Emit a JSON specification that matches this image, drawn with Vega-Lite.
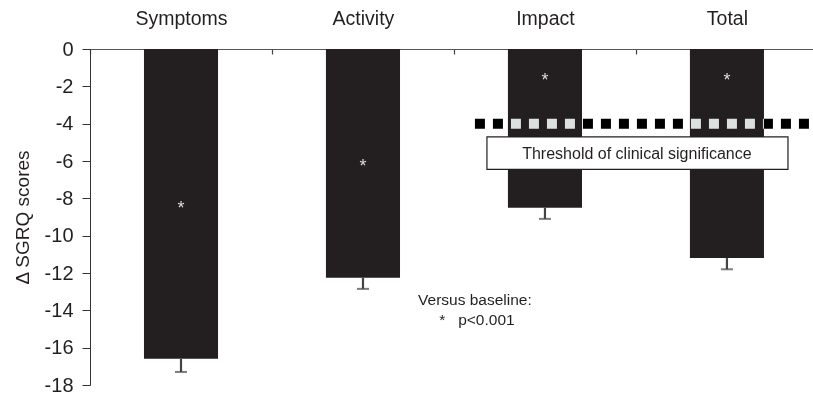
{
  "$schema": "https://vega.github.io/schema/vega-lite/v6.json",
  "width": 723,
  "height": 336,
  "autosize": {"type": "none"},
  "padding": {"left": 90, "top": 49, "right": 0, "bottom": 8},
  "config": {
    "view": {"stroke": null},
    "font": "Liberation Sans",
    "axisY": {
      "tickCount": 10,
      "labelExpr": "'' + datum.value", "labelOverlap": false,
      "labelFontSize": 20, "labelColor": "#231f20", "labelPadding": 9,
      "tickSize": 8, "tickColor": "#333", "domainColor": "#333",
      "grid": false,
      "titleFontSize": 19, "titleFontWeight": "normal",
      "titleColor": "#231f20", "titlePadding": 12
    }
  },
  "layer": [
    {
      "data": {"values": [
        {"domain": "Symptoms", "value": -16.6, "lower": -17.3, "star": -8.35},
        {"domain": "Activity", "value": -12.25, "lower": -12.85, "star": -6.1},
        {"domain": "Impact", "value": -8.5, "lower": -9.1, "star": -1.5},
        {"domain": "Total", "value": -11.2, "lower": -11.8, "star": -1.5}
      ]},
      "encoding": {
        "x": {
          "field": "domain", "type": "nominal", "sort": null,
          "scale": {"paddingInner": 0.593, "paddingOuter": 0.283, "align": 0.524},
          "axis": {
            "orient": "top", "title": null, "labelAngle": 0,
            "labelFontSize": 19.5, "labelColor": "#231f20", "labelPadding": 26,
            "tickBand": "center", "tickOffset": -91, "labelOffset": 91,
            "tickSize": -5, "tickColor": "#444", "tickWidth": 1.2,
            "domainColor": "#555", "domainWidth": 1.2
          }
        }
      },
      "layer": [
        {
          "mark": {"type": "bar", "color": "#231f20"},
          "encoding": {
            "y": {
              "field": "value", "type": "quantitative",
              "scale": {"domain": [-18, 0], "nice": false, "zero": false},
              "axis": {"title": "Δ SGRQ scores"}
            },
            "y2": {"datum": 0}
          }
        },
        {
          "mark": {"type": "rule", "color": "#444", "strokeWidth": 2.2},
          "encoding": {
            "y": {"field": "value", "type": "quantitative"},
            "y2": {"field": "lower"}
          }
        },
        {
          "mark": {"type": "tick", "color": "#444", "thickness": 2, "size": 12, "orient": "horizontal"},
          "encoding": {
            "y": {"field": "lower", "type": "quantitative"}
          }
        },
        {
          "mark": {"type": "text", "text": "*", "color": "#dddddd", "fontSize": 18, "baseline": "middle", "dy": 4},
          "encoding": {
            "y": {"field": "star", "type": "quantitative"}
          }
        }
      ]
    },
    {
      "data": {"values": [{"x1": 2.115, "x2": 3.9725, "y": -4}]},
      "mark": {"type": "rule", "color": "white", "strokeWidth": 10, "strokeDash": [10, 8], "blend": "difference"},
      "encoding": {
        "x": {"field": "x1", "type": "quantitative", "scale": {"domain": [0, 3.9725], "nice": false, "zero": false}, "axis": null},
        "x2": {"field": "x2"},
        "y": {"field": "y", "type": "quantitative"}
      }
    },
    {
      "data": {"values": [{"x1": 2.181, "x2": 3.835, "y1": -4.71, "y2": -6.45}]},
      "mark": {"type": "rect", "fill": "white", "stroke": "#231f20", "strokeWidth": 1.2},
      "encoding": {
        "x": {"field": "x1", "type": "quantitative", "scale": {"domain": [0, 3.9725], "nice": false, "zero": false}, "axis": null},
        "x2": {"field": "x2"},
        "y": {"field": "y1", "type": "quantitative"},
        "y2": {"field": "y2"}
      }
    },
    {
      "data": {"values": [
        {"x": 3.005, "y": -5.6, "label": "Threshold of clinical significance"}
      ]},
      "mark": {"type": "text", "color": "#231f20", "baseline": "middle", "align": "center", "fontSize": 16},
      "encoding": {
        "x": {"field": "x", "type": "quantitative", "scale": {"domain": [0, 3.9725], "nice": false, "zero": false}, "axis": null},
        "y": {"field": "y", "type": "quantitative"},
        "text": {"field": "label"}
      }
    },
    {
      "data": {"values": [
        {"x": 2.115, "y": -13.45, "label": "Versus baseline:"},
        {"x": 2.126, "y": -14.5, "label": "*\u00a0\u00a0\u00a0p<0.001"}
      ]},
      "mark": {"type": "text", "color": "#231f20", "baseline": "middle", "align": "center", "fontSize": 15.5},
      "encoding": {
        "x": {"field": "x", "type": "quantitative", "scale": {"domain": [0, 3.9725], "nice": false, "zero": false}, "axis": null},
        "y": {"field": "y", "type": "quantitative"},
        "text": {"field": "label"}
      }
    }
  ],
  "resolve": {"scale": {"x": "independent"}}
}
